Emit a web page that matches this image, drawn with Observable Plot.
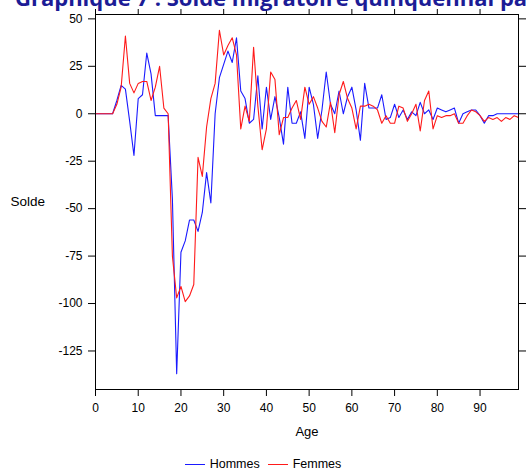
<!DOCTYPE html>
<html>
<head>
<meta charset="utf-8">
<script src="https://cdn.jsdelivr.net/npm/d3@7"></script>
<script src="https://cdn.jsdelivr.net/npm/@observablehq/plot@0.6"></script>
<style>
html, body { margin: 0; padding: 0; background: #fff; }
body { width: 526px; height: 470px; overflow: hidden; position: relative; font-family: "Liberation Sans", Arial, sans-serif; }
#title { position: absolute; left: 15px; top: -18px; font: 700 22px "Open Sans", sans-serif; line-height: 30px; color: #1c1c96; white-space: nowrap; }
#chart { position: absolute; left: 0; top: 0; }
#legend { position: absolute; left: 0; top: 455px; width: 526px; height: 18px; display: flex; justify-content: center; align-items: center; font-size: 12.5px; color: #000; }
#legend .sw { display: inline-block; width: 20px; height: 0; border-top: 1px solid; margin-right: 5px; }
#legend .item { display: inline-flex; align-items: center; margin: 0 4px; }
</style>
</head>
<body>
<div id="chart"></div>
<div id="title">Graphique 7 : Solde migratoire quinquennal par sexe et âge</div>
<div id="legend"></div>
<script>
// Ages 0..99
const ages = d3.range(0, 100);

// Solde migratoire, Hommes
const hommes = [
  0, 0, 0, 0, 0, 7, 15, 13, -4, -22,
  8, 10, 32, 21, -1, -1, -1, -1, -45, -137,
  -73, -67, -56, -56, -62, -52, -31, -47, 0, 19,
  26, 33, 27, 40, 12, 8, -5, -3, 20, -8,
  14, -3, 9, -2, -16, 14, -5, -5, 1, -13,
  14, 5, -13, 2, 22, 5, 0, 12, 0, 9,
  14, 2, -14, 16, 3, 3, 3, 10, -3, -2,
  5, -2, 2, -3, 1, -1, 6, 0, 2, -3,
  3, 2, 1, 2, 3, -5, 0, 1, 2, 2,
  -1, -5, -1, -1, 0, 0, 0, 0, 0, 0
];

// Solde migratoire, Femmes
const femmes = [
  0, 0, 0, 0, 0, 5, 14, 41, 16, 11,
  16, 17, 17, 7, 14, 25, 3, 0, -75, -97,
  -91, -99, -96, -90, -23, -33, -7, 8, 16, 44,
  31, 36, 40, 31, -8, 4, -4, 35, 4, -19,
  -8, 22, 18, -11, -2, -2, 3, 7, -3, 14,
  5, 9, 3, -4, -7, 6, -10, 10, 17, 8,
  3, -8, 4, 4, 5, 4, 2, -5, -1, -5,
  -5, 4, 3, -4, 0, 5, -9, 7, 12, -8,
  -1, -2, -1, -1, 0, -5, -5, -1, 2, 1,
  -1, -4, -2, -3, -2, -4, -2, -3, -1, -2
];

const xTicks = [0, 10, 20, 30, 40, 50, 60, 70, 80, 90];
const yTicks = [50, 25, 0, -25, -50, -75, -100, -125];

const series = [
  {name: "Hommes", color: "#1a1aff", values: hommes},
  {name: "Femmes", color: "#ff1a1a", values: femmes}
];

const rows = series.flatMap(s => ages.map((a, i) => ({age: a, solde: s.values[i], sexe: s.name})));

const chart = Plot.plot({
  width: 526,
  height: 452,
  marginLeft: 95,
  marginRight: 8,
  marginTop: 14,
  marginBottom: 63,
  style: {fontFamily: "Liberation Sans, Arial, sans-serif", fontSize: "12px", background: "transparent", color: "#000"},
  x: {domain: [0, 99]},
  y: {domain: [-145.3, 52.3]},
  color: {domain: series.map(s => s.name), range: series.map(s => s.color)},
  marks: [
    Plot.lineY(rows, {x: "age", y: "solde", stroke: "sexe", z: "sexe", strokeWidth: 1.1}),
    Plot.frame({stroke: "#000", strokeWidth: 1}),
    Plot.axisX({ticks: xTicks, tickSize: 7, tickPadding: 7, tickFormat: d => String(d), label: null}),
    Plot.axisX({anchor: "top", ticks: xTicks, tickSize: 6, tickFormat: () => "", label: null}),
    Plot.axisY({ticks: yTicks, tickSize: 7, tickPadding: 6, tickFormat: d => String(d), label: null}),
    Plot.axisY({anchor: "right", ticks: yTicks, tickSize: 7, tickFormat: () => "", label: null}),
    Plot.text(["Age"], {text: d => d, frameAnchor: "bottom", dy: 42, lineAnchor: "middle", fontSize: 13}),
    Plot.text(["Solde"], {text: d => d, frameAnchor: "left", textAnchor: "start", dx: -85, lineAnchor: "middle", fontSize: 13.5})
  ]
});
document.getElementById("chart").appendChild(chart);

const legend = document.getElementById("legend");
for (const s of series) {
  const item = document.createElement("span");
  item.className = "item";
  const sw = document.createElement("span");
  sw.className = "sw";
  sw.style.borderTopColor = s.color;
  item.appendChild(sw);
  item.appendChild(document.createTextNode(s.name));
  legend.appendChild(item);
}
</script>
</body>
</html>
